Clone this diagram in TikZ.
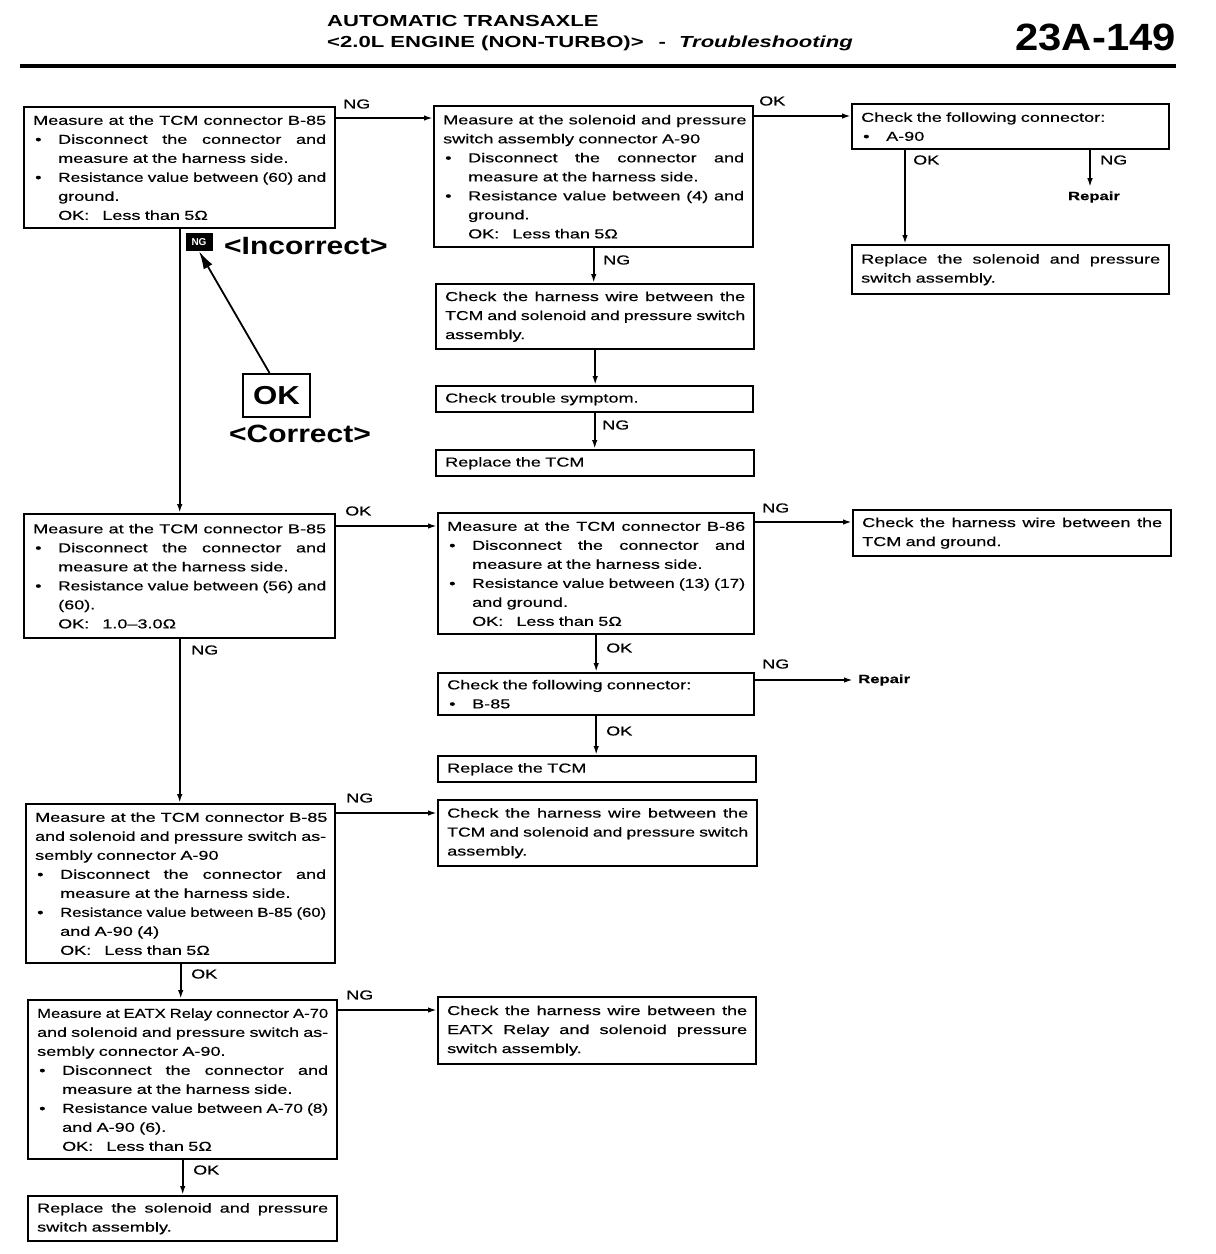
\documentclass[tikz,border=0pt]{standalone}
\usepackage{fontspec}
\usepackage{graphicx}
\setmainfont{Liberation Sans}
\newfontfamily\boxfont[FakeStretch=1.39,FakeBold=0.5]{Liberation Sans}
\newfontfamily\lblfont[FakeStretch=1.39,FakeBold=0.5]{Liberation Sans}
\newfontfamily\headfont[FakeStretch=1.38]{Liberation Sans}
\newfontfamily\numfont[FakeStretch=1.1]{Liberation Sans}
\newfontfamily\bigfont[FakeStretch=1.2]{Liberation Sans}
\usetikzlibrary{arrows.meta,calc}
\newlength\tmpw
\newlength\tmpx
\newlength\tw
\newcommand\JWLine[2]{\setlength\tmpx{#1}\settowidth\tmpw{#2}\ifdim\tmpw>\tmpx\resizebox{\tmpx}{\height}{#2}\else\makebox[\tmpx][s]{\spaceskip=\fontdimen2\font plus 1fil\relax #2}\fi}
\newcommand\JLine[1]{\JWLine{\tw}{#1}}
\newcommand\bulmark{\makebox[25pt][l]{\hspace{2pt}•}}
\newcommand\BJLine[1]{\bulmark\JWLine{\dimexpr\tw-25pt\relax}{#1}}
\newcommand\BLine[1]{\bulmark #1}
\newcommand\ILine[1]{\hspace*{25pt}#1}
\newcommand\OKLine[1]{\hspace*{25pt}OK:\hspace{13pt}#1}
\begin{document}
\begin{tikzpicture}[x=1pt,y=-1pt,
  box/.style={draw, line width=2.4pt, anchor=north west, inner xsep=9pt, inner ysep=0pt, align=left,
    text width=\tw, font=\boxfont\fontsize{13}{19}\selectfont},
  lbl/.style={anchor=west, inner sep=0pt, font=\lblfont\fontsize{13}{13}\selectfont},
  rep/.style={inner sep=0pt, font=\boxfont\bfseries\fontsize{12}{12}\selectfont},
  arr/.style={line width=1.8pt, -{Latex[length=9pt,width=5.5pt]}},
  bigarr/.style={line width=1.8pt, -{Latex[length=18pt,width=10pt]}},
  bigtxt/.style={inner sep=0pt, font=\bigfont\bfseries\fontsize{25}{25}\selectfont},
  head/.style={anchor=west, inner sep=0pt, font=\headfont\bfseries\fontsize{16}{16}\selectfont}]
\useasboundingbox (0,0) rectangle (1216,1254);

% header
\node[head] (ht1) at (327,21) {AUTOMATIC TRANSAXLE};
\node[head] (ht2) at (327,43) {<2.0L ENGINE (NON-TURBO)>\hspace{15pt}-\hspace{13pt}\textit{Troubleshooting}};
\node[anchor=east, inner sep=0pt, font=\numfont\bfseries\fontsize{38}{38}\selectfont] (pg) at (1176,37) {23A-149};
\draw[line width=4pt] (20,65.5) -- (1176,65.5);

% boxes
\setlength\tw{293pt}
\node[box, minimum height=121pt] (b1) at (23,106) {%
\JLine{Measure at the TCM connector B-85}\\
\BJLine{Disconnect the connector and}\\
\ILine{measure at the harness side.}\\
\BJLine{Resistance value between (60) and}\\
\ILine{ground.}\\
\OKLine{Less than 5Ω}};

\setlength\tw{301pt}
\node[box, minimum height=141pt] (b2) at (433,105) {%
\JLine{Measure at the solenoid and pressure}\\
switch assembly connector A-90\\
\BJLine{Disconnect the connector and}\\
\ILine{measure at the harness side.}\\
\BJLine{Resistance value between (4) and}\\
\ILine{ground.}\\
\OKLine{Less than 5Ω}};

\setlength\tw{299pt}
\node[box, minimum height=45pt] (b3) at (851,103) {%
Check the following connector:\\
\BLine{A-90}};

\node[box, minimum height=49pt] (b5) at (851,244) {%
\JLine{Replace the solenoid and pressure}\\
switch assembly.};

\setlength\tw{300pt}
\node[box, minimum height=65pt] (h1) at (435,283) {%
\JLine{Check the harness wire between the}\\
\JLine{TCM and solenoid and pressure switch}\\
assembly.};

\setlength\tw{299pt}
\node[box, minimum height=26pt] (ts) at (435,385) {Check trouble symptom.};
\setlength\tw{300pt}
\node[box, minimum height=26pt] (rt1) at (435,449) {Replace the TCM};

\setlength\tw{293pt}
\node[box, minimum height=124pt] (b4) at (23,513) {%
\JLine{Measure at the TCM connector B-85}\\
\BJLine{Disconnect the connector and}\\
\ILine{measure at the harness side.}\\
\BJLine{Resistance value between (56) and}\\
\ILine{(60).}\\
\OKLine{1.0–3.0Ω}};

\setlength\tw{298pt}
\node[box, minimum height=121pt] (b6) at (437,512) {%
\JLine{Measure at the TCM connector B-86}\\
\BJLine{Disconnect the connector and}\\
\ILine{measure at the harness side.}\\
\BJLine{Resistance value between (13) (17)}\\
\ILine{and ground.}\\
\OKLine{Less than 5Ω}};

\setlength\tw{300pt}
\node[box, minimum height=46pt] (b7) at (852,509) {%
\JLine{Check the harness wire between the}\\
TCM and ground.};

\setlength\tw{298pt}
\node[box, minimum height=42pt] (b8) at (437,672) {%
Check the following connector:\\
\BLine{B-85}};

\setlength\tw{300pt}
\node[box, minimum height=26pt] (b10) at (437,755) {Replace the TCM};

\setlength\tw{291pt}
\node[box, minimum height=159pt] (b9) at (25,803) {%
\JLine{Measure at the TCM connector B-85}\\
\JLine{and solenoid and pressure switch as-}\\
sembly connector A-90\\
\BJLine{Disconnect the connector and}\\
\ILine{measure at the harness side.}\\
\BJLine{Resistance value between B-85 (60)}\\
\ILine{and A-90 (4)}\\
\OKLine{Less than 5Ω}};

\setlength\tw{301pt}
\node[box, minimum height=66pt] (b11) at (437,799) {%
\JLine{Check the harness wire between the}\\
\JLine{TCM and solenoid and pressure switch}\\
assembly.};

\setlength\tw{291pt}
\node[box, minimum height=159pt] (b12) at (27,999) {%
\JLine{Measure at EATX Relay connector A-70}\\
\JLine{and solenoid and pressure switch as-}\\
sembly connector A-90.\\
\BJLine{Disconnect the connector and}\\
\ILine{measure at the harness side.}\\
\BJLine{Resistance value between A-70 (8)}\\
\ILine{and A-90 (6).}\\
\OKLine{Less than 5Ω}};

\setlength\tw{300pt}
\node[box, minimum height=67pt] (b13) at (437,996) {%
\JLine{Check the harness wire between the}\\
\JLine{EATX Relay and solenoid pressure}\\
switch assembly.};

\setlength\tw{291pt}
\node[box, minimum height=45pt] (b14) at (27,1195) {%
\JLine{Replace the solenoid and pressure}\\
switch assembly.};

% repair texts
\node[rep] (rep1) at (1094,197) {Repair};
\node[rep, anchor=west] (rep2) at (858,680) {Repair};

% correction note
\node[fill=black, text=white, minimum width=27pt, minimum height=18pt, inner sep=0pt,
  font=\bfseries\fontsize{10}{10}\selectfont] (ngicon) at (199,242) {NG};
\node[bigtxt, anchor=west] (inc) at (224,246) {<Incorrect>};
\node[draw, line width=2.2pt, minimum width=67pt, minimum height=43pt, inner sep=0pt,
  font=\bigfont\bfseries\fontsize{26}{26}\selectfont] (okbox) at (276.5,395.5) {OK};
\node[bigtxt] (cor) at (300,434) {<Correct>};
\draw[bigarr] ([xshift=-7pt]okbox.north) -- (ngicon.south);

% labels
\node[lbl] (l1) at (343,104) {NG};
\node[lbl] (l2) at (759,101) {OK};
\node[lbl] (l3) at (913,160) {OK};
\node[lbl] (l4) at (1100,160) {NG};
\node[lbl] (l5) at (603,260) {NG};
\node[lbl] (l6) at (602,425) {NG};
\node[lbl] (l7) at (345,511) {OK};
\node[lbl] (l8) at (191,650) {NG};
\node[lbl] (l9) at (762,508) {NG};
\node[lbl] (l10) at (606,648) {OK};
\node[lbl] (l11) at (762,664) {NG};
\node[lbl] (l12) at (606,731) {OK};
\node[lbl] (l13) at (346,798) {NG};
\node[lbl] (l14) at (191,974) {OK};
\node[lbl] (l15) at (346,995) {NG};
\node[lbl] (l16) at (193,1170) {OK};

% connectors
\coordinate (c1) at ([yshift=-12pt]b1.north east);
\draw[arr] (c1) -- (c1 -| b2.west);
\coordinate (c2) at ([yshift=-11pt]b2.north east);
\draw[arr] (c2) -- (c2 -| b3.west);
\coordinate (c3) at ([xshift=54pt]b3.south west);
\draw[arr] (c3) -- (c3 |- b5.north);
\coordinate (c4) at ([xshift=239pt]b3.south west);
\draw[arr] (c4) -- ([yshift=4pt]c4 |- rep1.north);
\draw[arr] (b2.south) -- (b2.south |- h1.north);
\draw[arr] (h1.south) -- (h1.south |- ts.north);
\draw[arr] (ts.south) -- (ts.south |- rt1.north);
\draw[arr] (b1.south) -- (b1.south |- b4.north);
\coordinate (c5) at ([yshift=-13pt]b4.north east);
\draw[arr] (c5) -- (c5 -| b6.west);
\draw[arr] (b4.south) -- (b4.south |- b9.north);
\coordinate (c6) at ([yshift=-10pt]b6.north east);
\draw[arr] (c6) -- (c6 -| b7.west);
\draw[arr] (b6.south) -- (b6.south |- b8.north);
\coordinate (c8) at ([yshift=-8pt]b8.north east);
\draw[arr, shorten >=5pt] (c8) -- (c8 -| rep2.west);
\draw[arr] (b8.south) -- (b8.south |- b10.north);
\coordinate (c9) at ([yshift=-10pt]b9.north east);
\draw[arr] (c9) -- (c9 -| b11.west);
\draw[arr] (b9.south) -- (b9.south |- b12.north);
\coordinate (c10) at ([yshift=-11pt]b12.north east);
\draw[arr] (c10) -- (c10 -| b13.west);
\draw[arr] (b12.south) -- (b12.south |- b14.north);
\end{tikzpicture}
\end{document}
